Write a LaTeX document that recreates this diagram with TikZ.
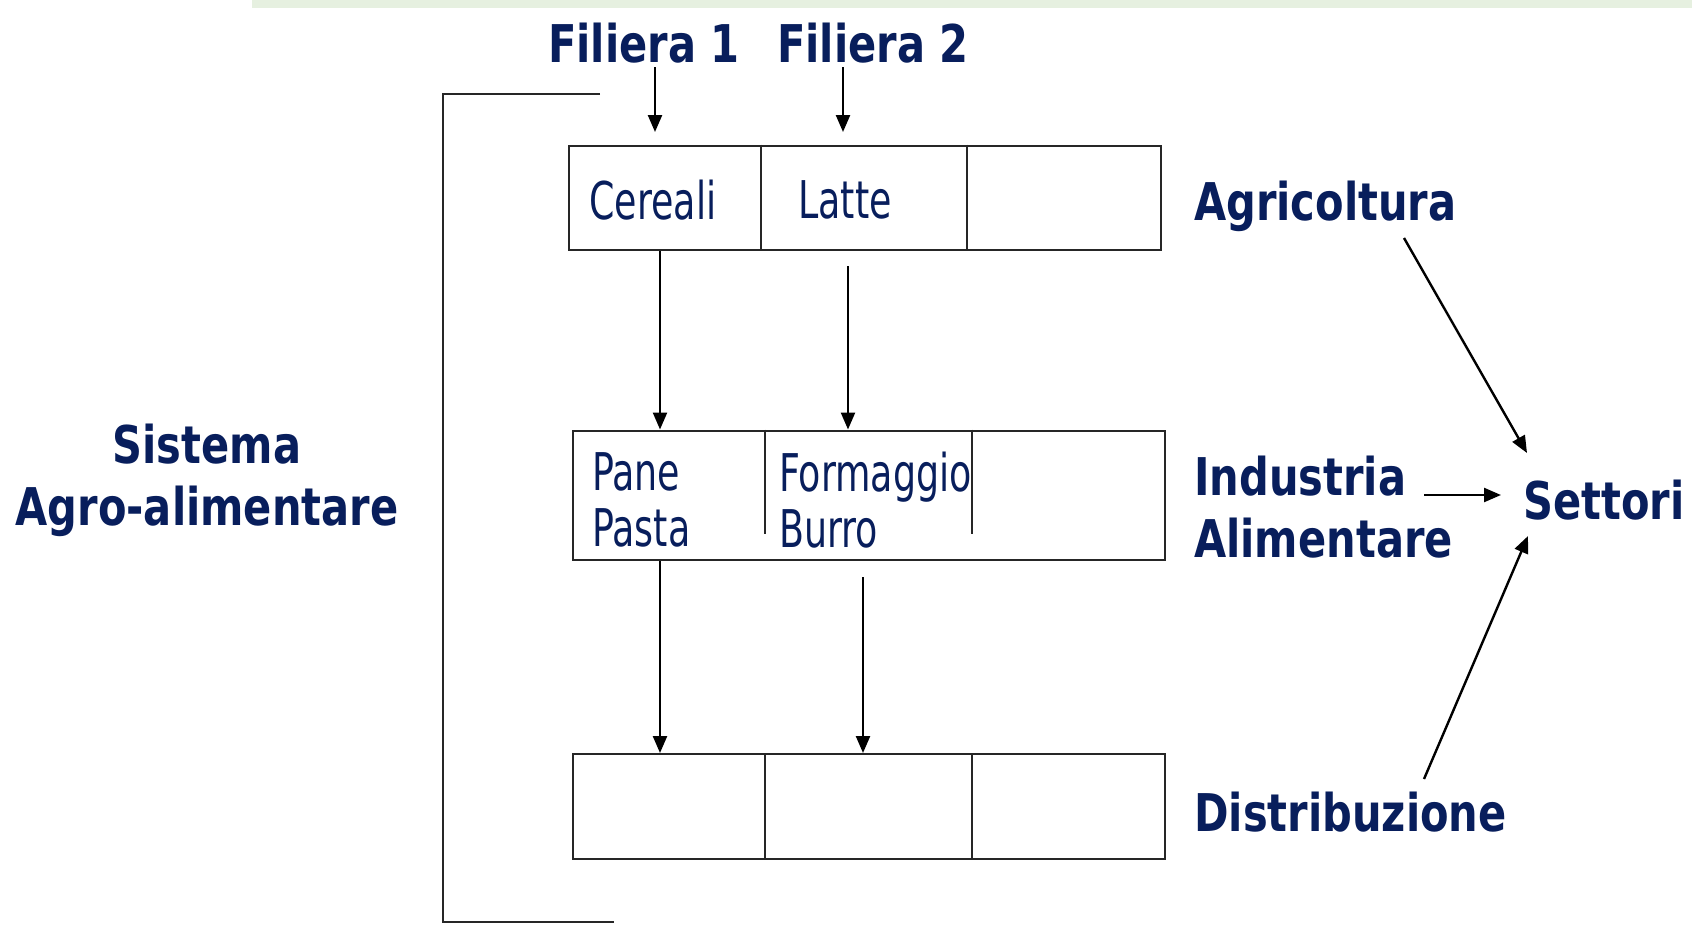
\documentclass[tikz,border=0pt]{standalone}
\usepackage{fontspec}
\usetikzlibrary{arrows.meta}
\newfontfamily\regfnt[FakeStretch=0.70]{DejaVu Sans}
\newfontfamily\boldfnt[FakeStretch=0.80]{DejaVu Sans Bold}
\definecolor{navy}{RGB}{8,30,92}
\definecolor{barg}{RGB}{230,240,224}
\tikzset{
  x=1pt,y=-1pt,
  cell/.style={draw=black!85, line width=2pt, anchor=north west, inner sep=0pt},
  regtxt/.style={text=navy, font=\regfnt\fontsize{52}{56}\selectfont, inner sep=0pt},
  boldtxt/.style={text=navy, font=\boldfnt\fontsize{52}{62}\selectfont, inner sep=0pt},
  arr/.style={draw=black, line width=2.4pt, -{Triangle[length=17pt,width=14pt]}},
  plain/.style={draw=black!85, line width=2pt},
}
\begin{document}
\begin{tikzpicture}
\useasboundingbox (0,0) rectangle (1692,940);
\fill[barg] (252,0) rectangle (1692,8);

% boxes
\node[cell, minimum width=592.4pt, minimum height=104.4pt] (top) at (567.6,144.6) {};
\node[cell, minimum width=592pt, minimum height=129.5pt] (mid) at (572,429.5) {};
\node[cell, minimum width=592pt, minimum height=105pt] (bot) at (572,753) {};
\draw[plain] (761,144.6) -- (761,249);
\draw[plain] (967,144.6) -- (967,249);
\draw[plain] (765,429.5) -- (765,534);
\draw[plain] (972,429.5) -- (972,534);
\draw[plain] (765,753) -- (765,858);
\draw[plain] (972,753) -- (972,858);

% texts
\node[boldtxt] (f1) at (644,43) {Filiera 1};
\node[boldtxt] (f2) at (873,43) {Filiera 2};
\node[regtxt] (cereali) at (653,200) {Cereali};
\node[regtxt] (latte) at (845,200) {Latte};
\node[regtxt, anchor=west, align=left] (pane) at (592,500) {Pane\\Pasta};
\node[regtxt, anchor=west, align=left] (form) at (779,500) {Formaggio\\Burro};
\node[boldtxt, align=center] (sist) at (207,480) {Sistema\\Agro-alimentare};
\node[boldtxt, anchor=west] (agri) at (1194,206) {Agricoltura};
\node[boldtxt, anchor=west, align=left] (ind) at (1194,507) {Industria\\Alimentare};
\node[boldtxt, anchor=west] (dist) at (1194,812) {Distribuzione};
\node[boldtxt] (sett) at (1604,500) {Settori};

% bracket
\coordinate (bt) at (600,94);
\coordinate (bb) at (614,922);
\draw[plain] (bt) -- (443,94) -- (443,922) -- (bb);

% arrows
\coordinate (a1s) at (655,67); \coordinate (a1e) at (655,132);
\coordinate (a2s) at (843,67); \coordinate (a2e) at (843,132);
\draw[arr] (a1s) -- (a1e);
\draw[arr] (a2s) -- (a2e);
\coordinate (b2s) at (848,266);
\draw[arr] (top.south -| 660,0) -- (mid.north -| 660,0);
\draw[arr] (b2s) -- (mid.north -| 848,0);
\coordinate (c2s) at (863,577);
\draw[arr] (mid.south -| 660,0) -- (bot.north -| 660,0);
\draw[arr] (c2s) -- (bot.north -| 863,0);
\coordinate (s1) at (1404,238); \coordinate (s1e) at (1527,453);
\coordinate (s2) at (1424,495); \coordinate (s2e) at (1501,495);
\coordinate (s3) at (1424,779); \coordinate (s3e) at (1528,536);
\draw[arr] (s1) -- (s1e);
\draw[arr] (s2) -- (s2e);
\draw[arr] (s3) -- (s3e);
\end{tikzpicture}
\end{document}
